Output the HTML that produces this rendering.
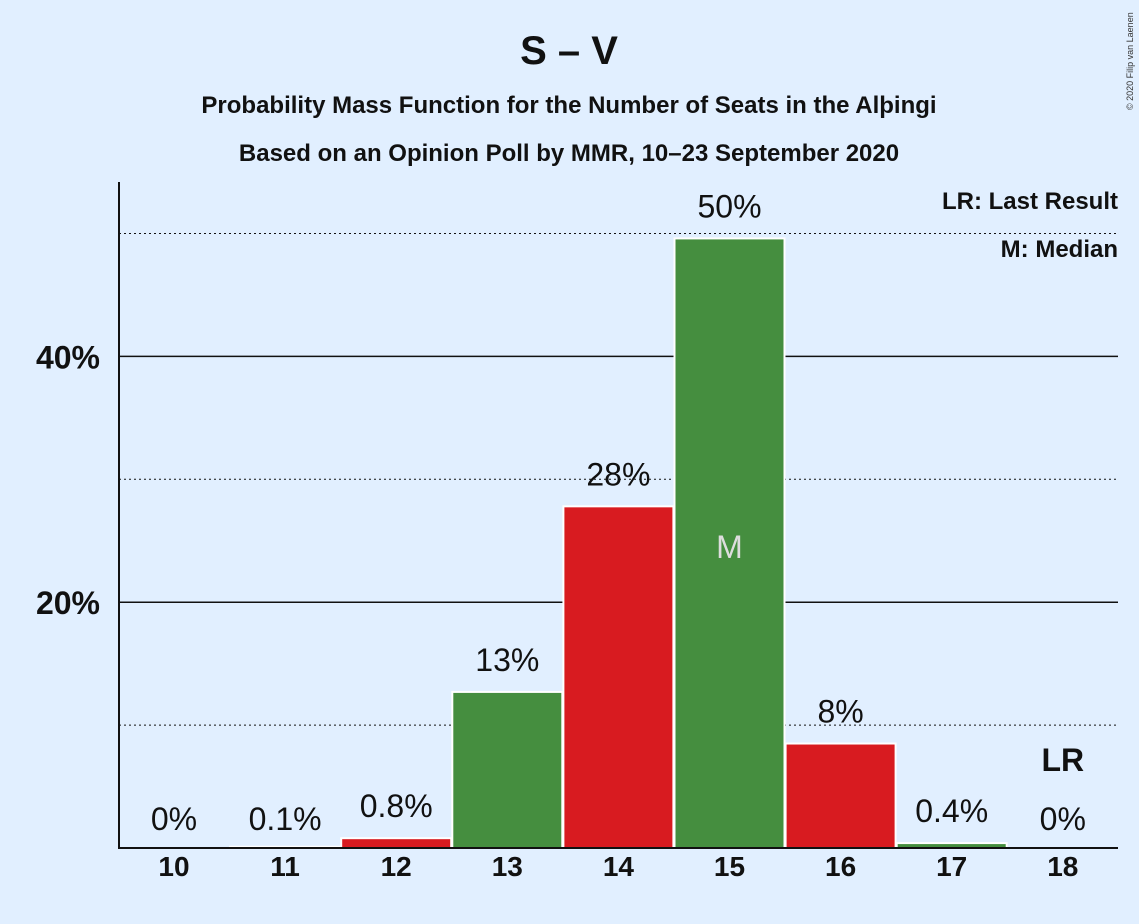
<!DOCTYPE html>
<html><head><meta charset="utf-8"><style>
body{margin:0;background:#e1efff;}
svg{display:block;font-family:"Liberation Sans",sans-serif;}
</style></head><body>
<svg id="chart" width="1139" height="924" viewBox="0 0 1139 924">
<rect width="1139" height="924" fill="#e1efff"/>
<text x="569" y="64" text-anchor="middle" font-size="40" font-weight="bold" fill="#111">S – V</text>
<text x="569" y="113" text-anchor="middle" font-size="24" font-weight="bold" fill="#111">Probability Mass Function for the Number of Seats in the Alþingi</text>
<text x="569" y="161" text-anchor="middle" font-size="24" font-weight="bold" fill="#111">Based on an Opinion Poll by MMR, 10–23 September 2020</text>
<text x="1133" y="110" font-size="9" fill="#333" transform="rotate(-90 1133 110)">© 2020 Filip van Laenen</text>
<text x="1118" y="209" text-anchor="end" font-size="24" font-weight="bold" fill="#111">LR: Last Result</text>
<text x="1118" y="257" text-anchor="end" font-size="24" font-weight="bold" fill="#111">M: Median</text>
<g id="grid"></g><g id="bars"></g><g id="labels"></g>
<line x1="119" y1="182" x2="119" y2="849" stroke="#111" stroke-width="2"/>
<line x1="118" y1="848" x2="1118" y2="848" stroke="#111" stroke-width="2"/>
</svg>
<script>
const categories=[10,11,12,13,14,15,16,17,18];
const values=[0,0.1,0.8,12.7,27.8,49.6,8.5,0.4,0];
const valueLabels=["0%","0.1%","0.8%","13%","28%","50%","8%","0.4%","0%"];
const yTicks=[20,40];
const yTickLabels=["20%","40%"];
const dottedTicks=[10,30,50];
const medianSeat=15, lastResultSeat=18;
const NS="http://www.w3.org/2000/svg";
const y=v=>848-v*12.29;
const x=c=>174+(c-10)*111.1;
function mk(t,a,p){const e=document.createElementNS(NS,t);for(const k in a)e.setAttribute(k,a[k]);p.appendChild(e);return e;}
const grid=document.getElementById('grid'),bars=document.getElementById('bars'),labels=document.getElementById('labels');
yTicks.forEach((t,i)=>{
 const l=mk('line',{x1:119,x2:1118,y1:y(t),y2:y(t),stroke:'#111','stroke-width':1.5},grid);
 
 
 const tx=mk('text',{x:100,y:y(t)+12,'text-anchor':'end','font-size':32,'font-weight':'bold',fill:'#111'},labels);
 tx.textContent=yTickLabels[i];
 
 
});
dottedTicks.forEach(t=>{
 const l=mk('line',{x1:119,x2:1118,y1:y(t),y2:y(t),stroke:'#111','stroke-width':1,'stroke-dasharray':'2,3'},grid);
 
 
});
categories.forEach((c,i)=>{
 const v=values[i];
 const col=(c%2===0)?'#d81b20':'#458e3f';
 if(v>0){
  const r=mk('rect',{x:x(c)-55,y:y(v),width:110,height:848-y(v),fill:col,stroke:'#fff','stroke-width':2},bars);
  
  
 }
 const ly=(v>0.2)?y(v)-21:830;
 const t=mk('text',{x:x(c),y:ly,'text-anchor':'middle','font-size':32,fill:'#111'},labels);
 t.textContent=valueLabels[i];
 
 
 const xl=mk('text',{x:x(c),y:876,'text-anchor':'middle','font-size':28,'font-weight':'bold',fill:'#111'},labels);
 xl.textContent=c;
 
 
 if(c===medianSeat){
  const m=mk('text',{x:x(c),y:558,'text-anchor':'middle','font-size':32,fill:'#ddd'},labels);
  m.textContent='M';
  
  
 }
 if(c===lastResultSeat){
  const m=mk('text',{x:x(c),y:771,'text-anchor':'middle','font-size':32,'font-weight':'bold',fill:'#111'},labels);
  m.textContent='LR';
  
  
 }
});
</script>
</body></html>
